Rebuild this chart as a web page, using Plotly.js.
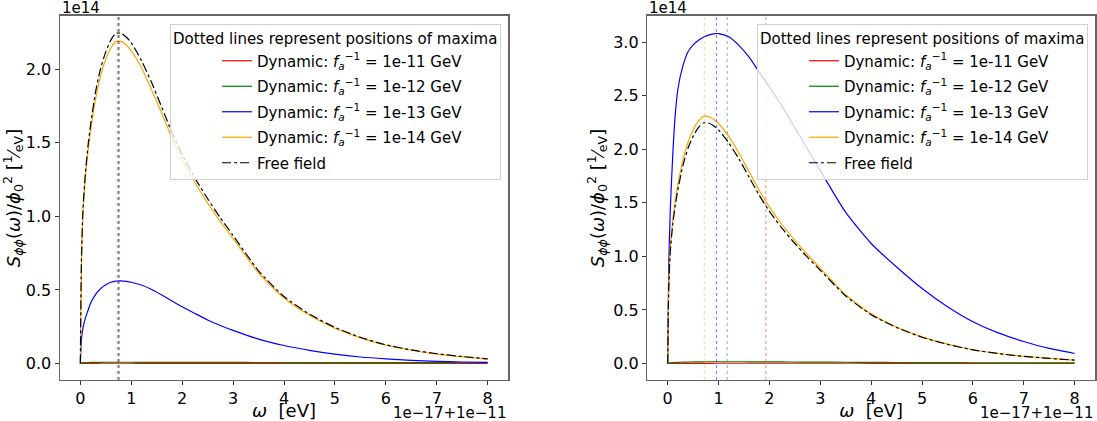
<!DOCTYPE html>
<html>
<head>
<meta charset="utf-8">
<script src="https://cdn.plot.ly/plotly-3.0.1.min.js"></script>
<style>html,body{margin:0;padding:0;background:#fff;}#chart{width:1097px;height:421px;}</style>
</head>
<body>
<div id="chart"></div>
<script>
// omega axis (displayed units: 1e-17 eV, offset 1e-11 eV)
const omega = [0, 0.02, 0.05, 0.1, 0.15, 0.2, 0.3, 0.4, 0.5, 0.6, 0.7, 0.8, 0.9, 1.0, 1.2, 1.4, 1.6, 1.8, 2.0, 2.25, 2.5, 2.75, 3.0, 3.5, 4.0, 4.5, 5.0, 5.5, 6.0, 6.5, 7.0, 7.5, 8.0];

// spectra in units of 1e14 eV^-1
const freeField = [0, 0.68, 1.04, 1.3, 1.48, 1.62, 1.85, 2.01, 2.12, 2.20, 2.245, 2.245, 2.22, 2.18, 2.06, 1.91, 1.74, 1.57, 1.42, 1.26, 1.12, 0.99, 0.87, 0.63, 0.455, 0.335, 0.245, 0.178, 0.127, 0.092, 0.066, 0.047, 0.031];

// left panel
const leftRed    = [0, 0.0005, 0.0007, 0.0009, 0.001, 0.001, 0.0011, 0.0012, 0.0012, 0.0012, 0.0012, 0.0012, 0.0012, 0.0012, 0.0011, 0.0011, 0.001, 0.001, 0.0009, 0.0009, 0.0008, 0.0008, 0.0007, 0.0006, 0.0005, 0.0004, 0.0003, 0.0003, 0.0002, 0.0002, 0.0002, 0.0001, 0.0001];
const leftGreen  = [0, 0.004, 0.005, 0.006, 0.0065, 0.007, 0.0075, 0.0078, 0.008, 0.008, 0.008, 0.008, 0.008, 0.008, 0.0079, 0.0078, 0.0077, 0.0076, 0.0075, 0.0073, 0.0071, 0.007, 0.0068, 0.0065, 0.0062, 0.006, 0.0058, 0.0056, 0.0054, 0.0052, 0.005, 0.0049, 0.0048];
const leftBlue   = [0, 0.16, 0.24, 0.31, 0.36, 0.41, 0.47, 0.51, 0.535, 0.552, 0.56, 0.562, 0.558, 0.552, 0.533, 0.503, 0.465, 0.425, 0.385, 0.34, 0.296, 0.258, 0.225, 0.165, 0.122, 0.089, 0.063, 0.044, 0.031, 0.021, 0.0145, 0.01, 0.007];
const leftOrange = [0, 0.66, 1.01, 1.27, 1.44, 1.58, 1.80, 1.96, 2.07, 2.145, 2.19, 2.19, 2.165, 2.125, 2.01, 1.86, 1.70, 1.53, 1.385, 1.23, 1.09, 0.965, 0.85, 0.615, 0.445, 0.327, 0.239, 0.174, 0.124, 0.09, 0.064, 0.046, 0.03];

// right panel
const rightRed    = [0, 0.0003, 0.0005, 0.0007, 0.0008, 0.0009, 0.001, 0.0011, 0.0012, 0.0013, 0.0014, 0.0015, 0.0016, 0.0017, 0.0018, 0.0019, 0.002, 0.002, 0.002, 0.002, 0.0019, 0.0019, 0.0018, 0.0017, 0.0016, 0.0015, 0.0014, 0.0013, 0.0012, 0.0011, 0.001, 0.0009, 0.0008];
const rightGreen  = [0, 0.004, 0.006, 0.008, 0.009, 0.01, 0.012, 0.013, 0.014, 0.015, 0.0155, 0.016, 0.016, 0.016, 0.016, 0.0158, 0.0155, 0.015, 0.0145, 0.014, 0.0133, 0.0126, 0.012, 0.011, 0.0098, 0.0088, 0.008, 0.0072, 0.0065, 0.006, 0.0055, 0.0052, 0.005];
const rightBlue   = [0, 0.9, 1.42, 1.95, 2.33, 2.56, 2.78, 2.91, 2.975, 3.015, 3.045, 3.065, 3.077, 3.08, 3.05, 2.97, 2.86, 2.72, 2.58, 2.40, 2.20, 2.0, 1.80, 1.41, 1.12, 0.90, 0.70, 0.53, 0.39, 0.285, 0.205, 0.14, 0.093];
const rightOrange = [0, 0.70, 1.07, 1.34, 1.52, 1.67, 1.90, 2.065, 2.18, 2.26, 2.305, 2.305, 2.28, 2.24, 2.12, 1.965, 1.79, 1.615, 1.46, 1.295, 1.15, 1.015, 0.89, 0.642, 0.463, 0.34, 0.248, 0.18, 0.128, 0.093, 0.066, 0.047, 0.031];

// positions of maxima (dotted lines), same displayed omega units
const seriesColors = ['red', 'green', 'blue', 'orange'];
const peakLeft  = [0.765, 0.75, 0.74, 0.72];
const peakRight = [1.93, 1.17, 0.96, 0.72];

const legendNames = [
  'Dynamic: <i>f</i><sub><i>a</i></sub><sup>−1</sup> = 1e-11 GeV',
  'Dynamic: <i>f</i><sub><i>a</i></sub><sup>−1</sup> = 1e-12 GeV',
  'Dynamic: <i>f</i><sub><i>a</i></sub><sup>−1</sup> = 1e-13 GeV',
  'Dynamic: <i>f</i><sub><i>a</i></sub><sup>−1</sup> = 1e-14 GeV'
];
const freeName = 'Free field';
const legendTitle = 'Dotted lines represent positions of maxima';
const xTicks = [0, 1, 2, 3, 4, 5, 6, 7, 8];
const yTicksLeft = [0, 0.5, 1.0, 1.5, 2.0];
const yTicksRight = [0, 0.5, 1.0, 1.5, 2.0, 2.5, 3.0];

const FONT = 'DejaVu Sans, sans-serif';
const traces = [];
function addPanel(series, xa, ya, leg) {
  series.forEach((ys, i) => {
    traces.push({x: omega, y: ys, xaxis: xa, yaxis: ya, type: 'scatter', mode: 'lines',
      name: legendNames[i], legend: leg, legendgroup: leg + 'g' + i,
      line: {color: seriesColors[i], width: 1.2, shape: 'spline', smoothing: 0.6}});
  });
  traces.push({x: omega, y: freeField, xaxis: xa, yaxis: ya, type: 'scatter', mode: 'lines',
    name: freeName, legend: leg, legendgroup: leg + 'gf',
    line: {color: 'black', width: 1.2, dash: 'dashdot', shape: 'spline', smoothing: 0.6}});
}
addPanel([leftRed, leftGreen, leftBlue, leftOrange], 'x', 'y', 'legend');
addPanel([rightRed, rightGreen, rightBlue, rightOrange], 'x2', 'y2', 'legend2');

const shapes = [];
peakLeft.forEach((p, i) => shapes.push({type: 'line', xref: 'x', yref: 'y domain', x0: p, x1: p, y0: 0, y1: 1,
  line: {color: seriesColors[i], width: 1, dash: 'dot'}, opacity: 0.5}));
peakRight.forEach((p, i) => shapes.push({type: 'line', xref: 'x2', yref: 'y2 domain', x0: p, x1: p, y0: 0, y1: 1,
  line: {color: seriesColors[i], width: 1, dash: 'dot'}, opacity: 0.5}));

const fmt = v => v.toFixed(1);
function xAxis(dom, anchor) {
  return {domain: dom, anchor: anchor, range: [-0.4, 8.4], tickvals: xTicks, ticktext: xTicks.map(String),
    ticks: 'outside', ticklen: 3.5, tickcolor: '#333', showline: true, mirror: true, linecolor: '#666', linewidth: 1.5,
    showgrid: false, zeroline: false, tickfont: {family: FONT, size: 16, color: '#000'},
    title: {text: '<i>ω</i>  [eV]', font: {family: FONT, size: 18, color: '#000'}, standoff: 4}};
}
const yTitle = '<i>S</i><sub><i>ϕϕ</i></sub>(<i>ω</i>)/<i>ϕ</i><sub>0</sub><sup>2</sup> [<sup>1</sup>⁄<sub>eV</sub>]';
function yAxis(dom, anchor, rng, tv) {
  return {domain: dom, anchor: anchor, range: rng, tickvals: tv, ticktext: tv.map(fmt),
    ticks: 'outside', ticklen: 4, tickcolor: '#333', showline: true, mirror: true, linecolor: '#666', linewidth: 1.5,
    showgrid: false, zeroline: false, tickfont: {family: FONT, size: 16, color: '#000'},
    title: {text: yTitle, font: {family: FONT, size: 18, color: '#000'}, standoff: 4}};
}
function legendCfg(x) {
  return {x: x, y: 0.943, xanchor: 'left', yanchor: 'top', bgcolor: 'rgba(255,255,255,0.8)', bordercolor: '#d0d0d0', borderwidth: 1,
    font: {family: FONT, size: 15, color: '#000'}, indentation: 46, tracegroupgap: 3,
    title: {text: legendTitle, side: 'top', font: {family: FONT, size: 15, color: '#000'}}};
}

const layout = {
  width: 1097, height: 421, margin: {l: 0, r: 0, t: 0, b: 0},
  paper_bgcolor: '#fff', plot_bgcolor: '#fff', showlegend: true,
  font: {family: FONT, color: '#000'},
  xaxis: xAxis([0.0547, 0.4631], 'y'),
  yaxis: yAxis([0.0974, 0.962], 'x', [-0.1125, 2.3625], yTicksLeft),
  xaxis2: xAxis([0.5901, 0.9982], 'y2'),
  yaxis2: yAxis([0.0974, 0.962], 'x2', [-0.1545, 3.244], yTicksRight),
  legend: legendCfg(0.155),
  legend2: legendCfg(0.690),
  shapes: shapes,
  annotations: [
    {text: '1e14', xref: 'x domain', yref: 'y domain', x: 0, y: 1, xanchor: 'left', yanchor: 'bottom', showarrow: false, font: {family: FONT, size: 15}, yshift: -3},
    {text: '1e14', xref: 'x2 domain', yref: 'y2 domain', x: 0, y: 1, xanchor: 'left', yanchor: 'bottom', showarrow: false, font: {family: FONT, size: 15}, yshift: -3},
    {text: '1e−17+1e−11', xref: 'x domain', yref: 'y domain', x: 1, y: 0, xanchor: 'right', yanchor: 'top', showarrow: false, font: {family: FONT, size: 15}, yshift: -22},
    {text: '1e−17+1e−11', xref: 'x2 domain', yref: 'y2 domain', x: 1, y: 0, xanchor: 'right', yanchor: 'top', showarrow: false, font: {family: FONT, size: 15}, yshift: -22}
  ]
};
Plotly.newPlot('chart', traces, layout, {staticPlot: true, displayModeBar: false});
</script>
</body>
</html>
